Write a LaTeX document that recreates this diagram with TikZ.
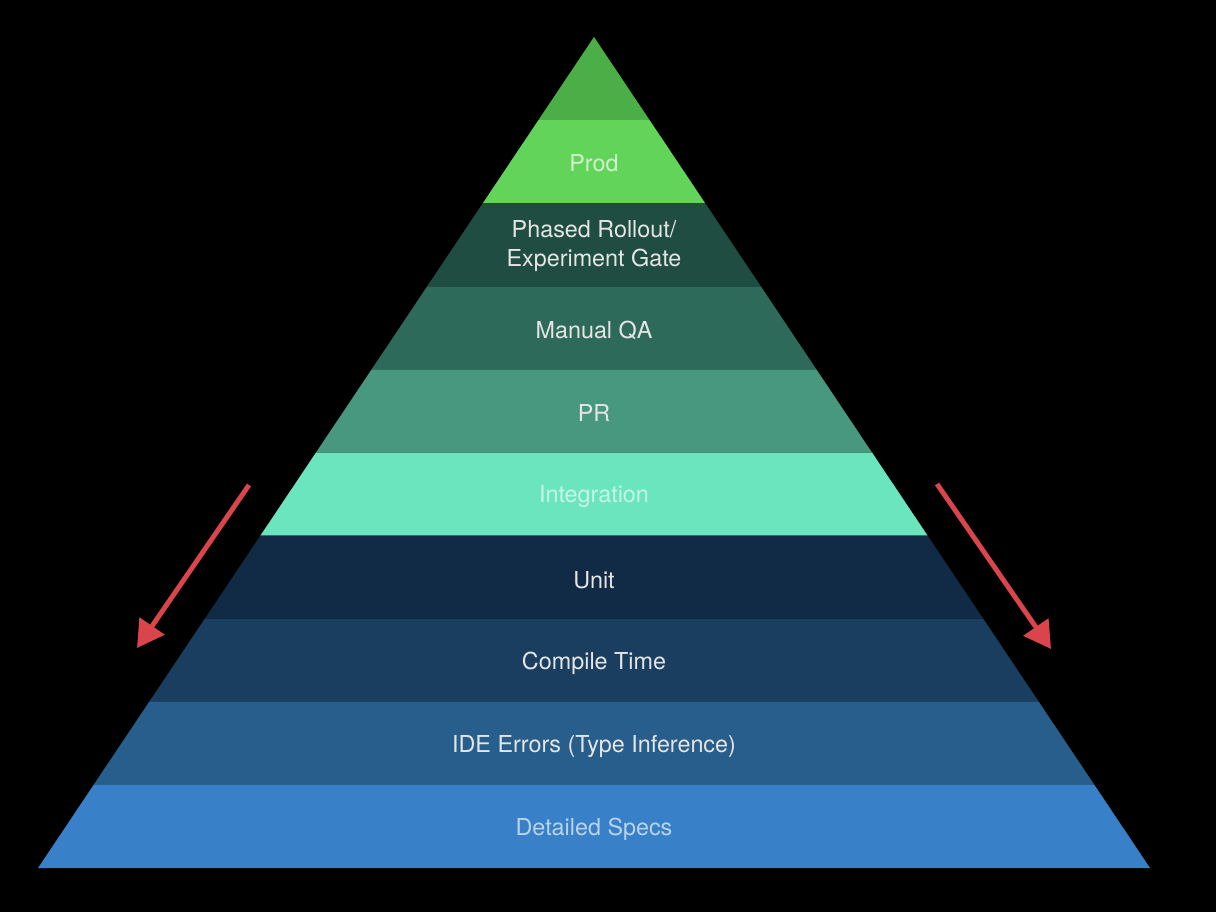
\documentclass[tikz,border=0pt]{standalone}
\usepackage{fontspec}
\setmainfont{TeX Gyre Heros}
\usepackage{tikz}
\usetikzlibrary{arrows.meta,calc}

\definecolor{tipgreen}{HTML}{4BAE47}
\definecolor{prodgreen}{HTML}{62D45A}
\definecolor{rollout}{HTML}{1F4D42}
\definecolor{manualqa}{HTML}{2D6A5A}
\definecolor{prteal}{HTML}{48987F}
\definecolor{integmint}{HTML}{6BE5BE}
\definecolor{unitnavy}{HTML}{112A45}
\definecolor{compileblue}{HTML}{1A3E60}
\definecolor{ideblue}{HTML}{275E8C}
\definecolor{specsblue}{HTML}{3880C7}
\definecolor{arrowred}{HTML}{D9454B}

\begin{document}
\begin{tikzpicture}
	[x=0.025cm,y=-0.025cm,
		level label/.style={text=white!90!black,font=\fontsize{16.6}{20}\selectfont,align=center},
		down arrow/.style={arrowred,line width=3.5pt,-{Triangle[length=19pt,width=21pt]}}]

	% background
	\fill[black] (0,0) rectangle (1216,912);

	\coordinate (apex) at (594,37);
	\coordinate (baseL) at (38,868);
	\coordinate (baseR) at (1150,868);

	% bands, top to bottom
	\foreach \c [count=\i from 0] in {tipgreen,prodgreen,rollout,manualqa,prteal,integmint,unitnavy,compileblue,ideblue,specsblue}
	{
		\pgfmathtruncatemacro\j{\i+1}
		\fill[\c] ($(apex)!\i/10!(baseL)$) -- ($(apex)!\j/10!(baseL)$)
			-- ($(apex)!\j/10!(baseR)$) -- ($(apex)!\i/10!(baseR)$) -- cycle;
	}

	\node[level label,text=prodgreen!30!white] (prod)    at (594,163) {Prod};
	\node[level label] (rollout) at (594,246) {Phased Rollout/\\Experiment Gate};
	\node[level label] (manual)  at (594,330) {Manual QA};
	\node[level label] (pr)      at (594,413) {PR};
	\node[level label,text=integmint!40!white] (integ) at (594,497) {Integration};
	\node[level label] (unit)    at (594,580) {Unit};
	\node[level label] (compile) at (594,663) {Compile Time};
	\node[level label] (ide)     at (594,746) {IDE Errors (Type Inference)};
	\node[level label,text=specsblue!35!white] (specs) at (594,829) {Detailed Specs};

	\coordinate (leftTop) at (249,485);
	\coordinate (leftTip) at (137,648);
	\coordinate (rightTop) at (937,484);
	\coordinate (rightTip) at (1051,649);

	\draw[down arrow] (leftTop) -- (leftTip);
	\draw[down arrow] (rightTop) -- (rightTip);

\end{tikzpicture}
\end{document}
